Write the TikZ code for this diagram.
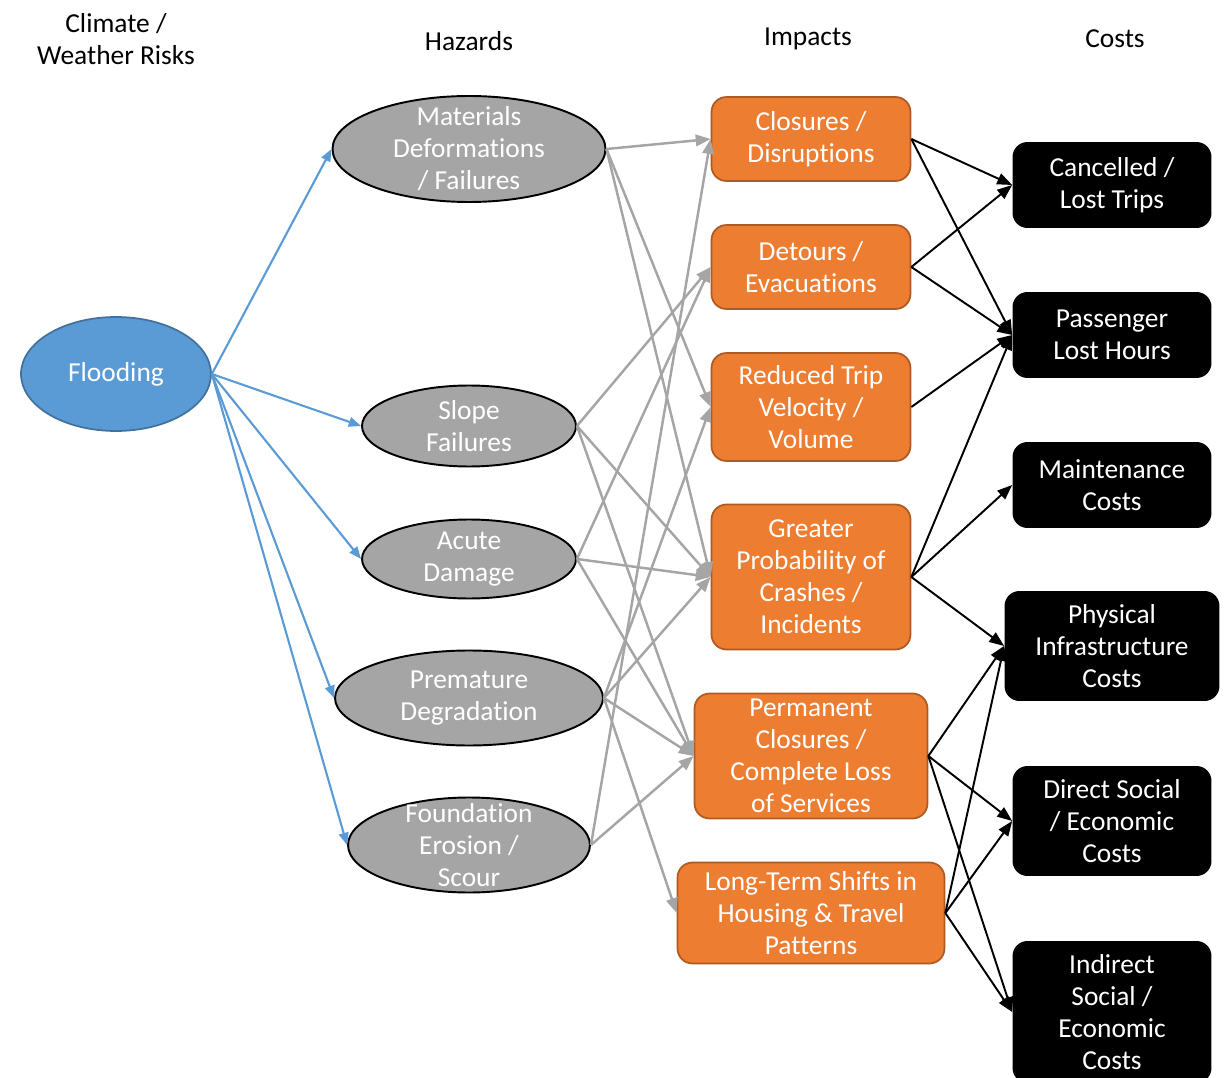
\documentclass[tikz,border=0pt]{standalone}
\usepackage{fontspec}
\setmainfont{Carlito}[Ligatures=NoCommon]
\usetikzlibrary{shapes.geometric,arrows.meta}
\definecolor{floodblue}{HTML}{5B9BD5}
\definecolor{floodedge}{HTML}{41719C}
\definecolor{hazgray}{HTML}{A5A5A5}
\definecolor{imporange}{HTML}{ED7D31}
\definecolor{impedge}{HTML}{AE5A21}

\begin{document}
\begin{tikzpicture}[x=0.02cm,y=-0.02cm,
  every node/.style={font=\fontsize{15.6pt}{18.2pt}\selectfont, align=center},
  head/.style={text=black, inner sep=0pt},
  txt/.style={text=white, inner sep=0pt},
  flood/.style={shape=ellipse, draw=floodedge, fill=floodblue, line width=1pt, inner sep=0pt, text=white},
  hazard/.style={shape=ellipse, draw=black, fill=hazgray, line width=1.1pt, inner sep=0pt},
  impact/.style={rectangle, rounded corners=0.3cm, draw=impedge, fill=imporange, line width=1pt, inner sep=0pt, text=white, minimum width=3.98cm},
  cost/.style={rectangle, rounded corners=0.3cm, fill=black, inner sep=0pt, text=white, minimum width=3.98cm},
  bluearrow/.style={-{Triangle[length=7pt,width=5.5pt]}, draw=floodblue, line width=1.2pt},
  grayarrow/.style={-{Triangle[length=8.5pt,width=6.5pt]}, draw=hazgray, line width=1.4pt},
  blackarrow/.style={-{Triangle[length=8.5pt,width=6.5pt]}, draw=black, line width=1.1pt}]
\useasboundingbox (0,0) rectangle (1225,1078);

% column headings
\path (116,39) node (riskhead) [head] {Climate /\\Weather Risks};
\path (469,41) node (hazhead) [head] {Hazards};
\path (808,39) node (imphead) [head] {Impacts};
\path (1115,39) node (costhead) [head] {Costs};

% climate risk
\path (116,374) node (flood) [flood, minimum width=3.8cm, minimum height=2.28cm] {Flooding};

% hazards
\path (469,149) node (H1) [hazard, minimum width=5.46cm, minimum height=2.12cm, label={[txt,name=H1txt]center:Materials\\Deformations\\/ Failures}] {};
\path (469,426) node (H2) [hazard, minimum width=4.28cm, minimum height=1.62cm, label={[txt,name=H2txt]center:Slope\\Failures}] {};
\path (469,559) node (H3) [hazard, minimum width=4.28cm, minimum height=1.58cm, label={[txt,name=H3txt]center:Acute\\Damage}] {};
\path (469,698) node (H4) [hazard, minimum width=5.36cm, minimum height=1.9cm, label={[txt,name=H4txt]center:Premature\\Degradation}] {};
\path (469,845) node (H5) [hazard, minimum width=4.84cm, minimum height=1.9cm, label={[txt,name=H5txt]center:Foundation\\Erosion /\\Scour}] {};

% impacts
\path (811,139) node (I1) [impact, minimum height=1.68cm] {Closures /\\Disruptions};
\path (811,267) node (I2) [impact, minimum height=1.68cm] {Detours /\\Evacuations};
\path (811,407) node (I3) [impact, minimum height=2.16cm] {Reduced Trip\\Velocity /\\Volume};
\path (811,577) node (I4) [impact, minimum height=2.9cm] {Greater\\Probability of\\Crashes /\\Incidents};
\path (811,756) node (I5) [impact, minimum width=4.66cm, minimum height=2.5cm] {Permanent\\Closures /\\Complete Loss\\of Services};
\path (811,913) node (I6) [impact, minimum width=5.34cm, minimum height=2.02cm] {Long-Term Shifts in\\Housing \& Travel\\Patterns};

% costs
\path (1112,185) node (C1) [cost, minimum height=1.72cm] {Cancelled /\\Lost Trips};
\path (1112,335) node (C2) [cost, minimum height=1.72cm] {Passenger\\Lost Hours};
\path (1112,485) node (C3) [cost, minimum height=1.72cm] {Maintenance\\Costs};
\path (1112,646) node (C4) [cost, minimum width=4.3cm, minimum height=2.2cm] {Physical\\Infrastructure\\Costs};
\path (1112,821) node (C5) [cost, minimum height=2.2cm] {Direct Social\\/ Economic\\Costs};
\path (1112,1012) node (C6) [cost, minimum height=2.84cm] {Indirect\\Social /\\Economic\\Costs};

% flooding to hazards
\draw [bluearrow] (flood.east) to (H1.west);
\draw [bluearrow] (flood.east) to (H2.west);
\draw [bluearrow] (flood.east) to (H3.west);
\draw [bluearrow] (flood.east) to (H4.west);
\draw [bluearrow] (flood.east) to (H5.west);

% hazards to impacts
\draw [grayarrow] (H1.east) to (I1.west);
\draw [grayarrow] (H1.east) to (I3.west);
\draw [grayarrow] (H1.east) to (I4.west);
\draw [grayarrow] (H2.east) to (I2.west);
\draw [grayarrow] (H2.east) to (I4.west);
\draw [grayarrow] (H2.east) to (I5.west);
\draw [grayarrow] (H3.east) to (I2.west);
\draw [grayarrow] (H3.east) to (I4.west);
\draw [grayarrow] (H3.east) to (I5.west);
\draw [grayarrow] (H4.east) to (I3.west);
\draw [grayarrow] (H4.east) to (I4.west);
\draw [grayarrow] (H4.east) to (I5.west);
\draw [grayarrow] (H4.east) to (I6.west);
\draw [grayarrow] (H5.east) to (I1.west);
\draw [grayarrow] (H5.east) to (I5.west);

% impacts to costs
\draw [blackarrow] (I1.east) to (C1.west);
\draw [blackarrow] (I1.east) to (C2.west);
\draw [blackarrow] (I2.east) to (C1.west);
\draw [blackarrow] (I2.east) to (C2.west);
\draw [blackarrow] (I3.east) to (C2.west);
\draw [blackarrow] (I4.east) to (C2.west);
\draw [blackarrow] (I4.east) to (C3.west);
\draw [blackarrow] (I4.east) to (C4.west);
\draw [blackarrow] (I5.east) to (C4.west);
\draw [blackarrow] (I5.east) to (C5.west);
\draw [blackarrow] (I5.east) to (C6.west);
\draw [blackarrow] (I6.east) to (C4.west);
\draw [blackarrow] (I6.east) to (C5.west);
\draw [blackarrow] (I6.east) to (C6.west);

\end{tikzpicture}
\end{document}
